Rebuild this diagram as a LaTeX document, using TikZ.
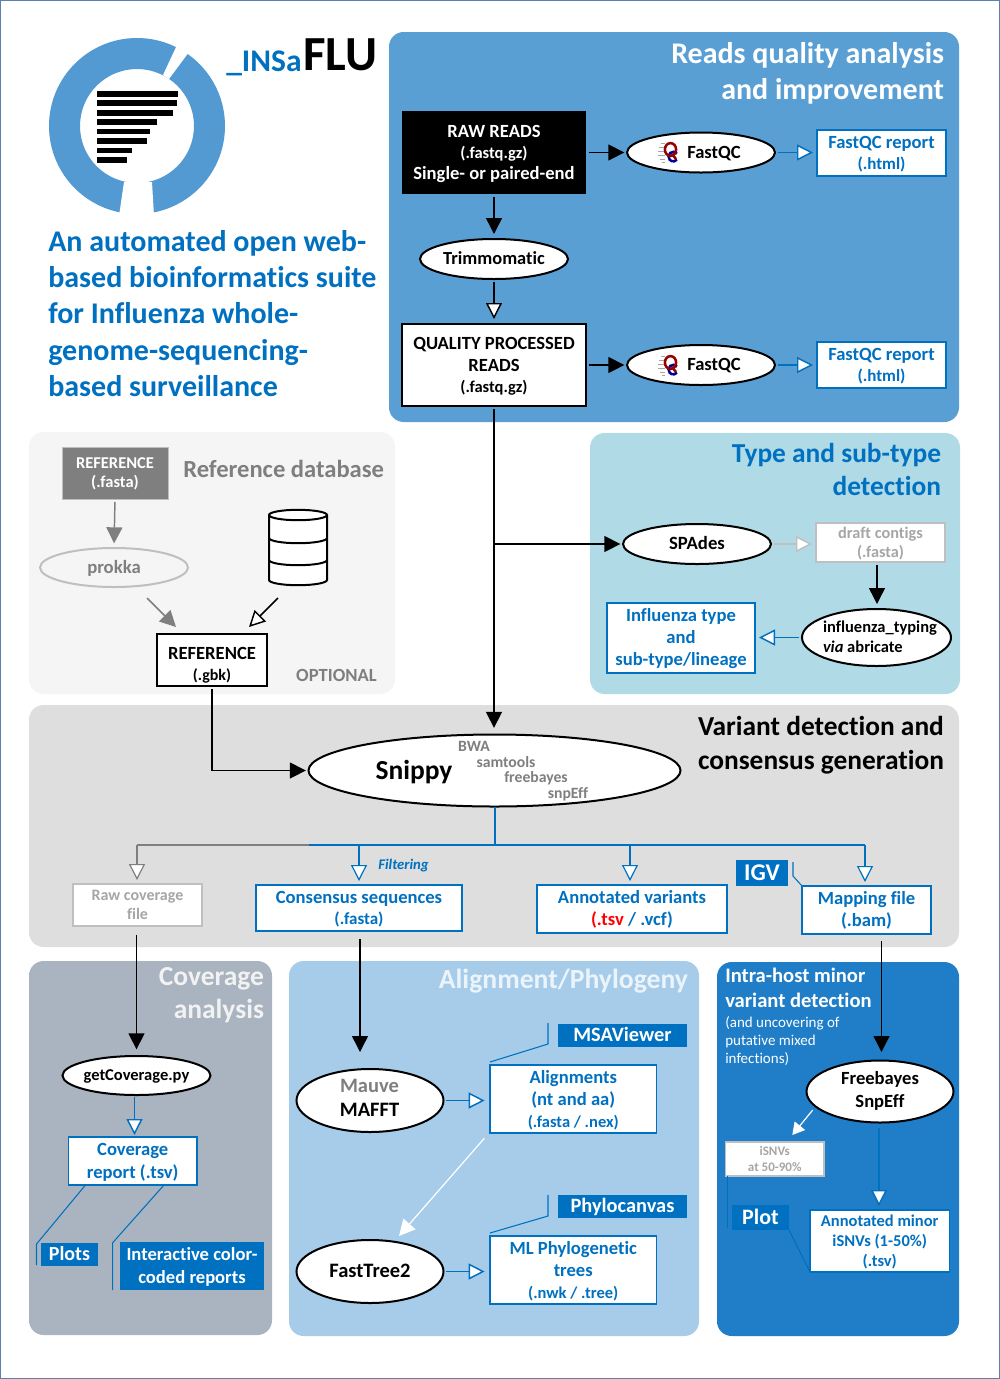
\documentclass[tikz,border=0pt]{standalone}
\usepackage{fontspec}
\setmainfont{Carlito}[Ligatures=NoCommon]
\usetikzlibrary{arrows.meta,shapes.geometric}
\definecolor{ibl}{HTML}{0070C0}
\definecolor{logob}{HTML}{5399D2}
\definecolor{preads}{HTML}{5A9FD4}
\definecolor{pdb}{HTML}{F5F5F5}
\definecolor{ptype}{HTML}{B0DAE6}
\definecolor{pvar}{HTML}{DEDEDE}
\definecolor{pcov}{HTML}{A9B4C0}
\definecolor{paln}{HTML}{A6CCE9}
\definecolor{pint}{HTML}{1F7EC7}
\definecolor{g1}{HTML}{7F7F7F}
\definecolor{g2}{HTML}{A6A6A6}
\definecolor{g3}{HTML}{BFBFBF}
\definecolor{frame}{HTML}{5B7FAE}
\newcommand\fsz[2]{\fontsize{\fpeval{#1*.75}}{\fpeval{#2*.75}}\selectfont}
\newcommand\capstrut{\rule[-.25em]{0pt}{1.12em}}
\newcommand\bx[7]{\node[boxbase,#2,minimum width={(#5-#3)*.75pt},minimum height={(#6-#4)*.75pt}] (#1) at ({(#3+#5)/2},{(#4+#6)/2}) {\capstrut#7\rule[-.25em]{0pt}{0pt}};}
\newcommand\el[7]{\node[elbase,#2,minimum width={2*#5*.75pt},minimum height={2*#6*.75pt},label={[align=center,inner sep=0pt,font=\bfseries]center:{#7\capstrut}}] (#1) at (#3,#4) {};}
\newcommand\qclogo[1]{\begin{scope}[shift={(0,#1)}]
\foreach \yy/\xs in {143/661,147/659,151/658,155/658,159/660,162/662}{\draw[g2,line width=.4pt] (\xs,\yy) -- (665,\yy);}
\draw[blue!60!black,line width=1.9pt] (677,153.5) arc[start angle=40,end angle=320,radius=3.6pt];
\draw[red!60!black,line width=1.9pt] (670.5,149.5) ellipse[x radius=4.2pt,y radius=4.8pt];
\draw[red!60!black,line width=1.9pt] (672,154) -- (676,159);
\end{scope}}
\tikzset{
 x=.75pt,y=-.75pt,
 boxbase/.style={rectangle,inner sep=0pt,outer sep=0pt,align=center,font=\bfseries\fsz{18.6}{22}},
 elbase/.style={ellipse,inner sep=0pt,outer sep=0pt,draw=black,fill=white,line width=1.5pt},
 panel/.style={rectangle,rounded corners=11pt,inner sep=0pt,outer sep=0pt},
 ptitle/.style={inner sep=0pt,outer sep=0pt,font=\bfseries\fsz{30}{36}},
 txt/.style={inner sep=0pt,outer sep=0pt,align=center},
 bluebox/.style={draw=ibl,fill=white,line width=1.4pt,text=ibl},
 greybox/.style={draw=g3,fill=white,line width=1.4pt,text=g2},
 blackbox/.style={draw=black,fill=white,line width=1.3pt,text=black},
 toolbox/.style={fill=ibl,text=white},
 thin link/.style={draw=ibl,line width=.8pt},
 hb/.style={line width=1.1pt,-{Triangle[length=12pt,width=12pt]},shorten <=2.2pt,shorten >=2pt},
 ho/.style={line width=1.1pt,-{Triangle[length=12pt,width=12pt,fill=white]},shorten <=2.2pt,shorten >=3pt},
 bluearrow/.style={ho,draw=ibl},
 greyarrow/.style={ho,draw=g3},
 tinytext/.style={inner sep=0pt,outer sep=0pt,text=g1,font=\bfseries\fsz{15.7}{18}},
}
\begin{document}
\begin{tikzpicture}
\useasboundingbox (0,0) rectangle (1000,1379);
\fill[white] (0,0) rectangle (1000,1379);
\draw[frame,line width=.9pt] (.6,.6) rectangle (999.4,1378.4);
% panels
\bx{preadsN}{panel,fill=preads}{389}{32}{959}{422}{}
\bx{pdbN}{panel,fill=pdb}{29}{432}{395}{694}{}
\bx{ptypeN}{panel,fill=ptype}{590}{433}{960}{694}{}
\bx{pvarN}{panel,fill=pvar}{29}{705}{959}{947}{}
\bx{pcovN}{panel,fill=pcov}{29}{961}{272}{1335}{}
\bx{palnN}{panel,fill=paln}{289}{961}{699}{1336}{}
\bx{pintN}{panel,fill=pint}{717}{962}{959}{1336}{}
% logo
\fill[logob,even odd rule] (137,126) circle[radius=88] circle[radius=57];
\fill[white] (124,182) -- (119,216) -- (154,216) -- (152,182) -- cycle;
\fill[white] (163,75) -- (177,45) -- (189,52) -- (169,79) -- cycle;
\foreach \yy/\xe in {93.7/178,103/177,112.7/173,122/157,131.5/150,141/146.5,150.3/132,159.7/127}{\fill[black] (97,\yy-2.8) rectangle (\xe,\yy+2.8);}
\node[inner sep=0pt,anchor=base west,text=ibl,font=\bfseries\fsz{31.5}{32}] (insa) at (226,71) {\_INSa};
\node[inner sep=0pt,anchor=base west,text=black,font=\bfseries\fsz{49}{50}] (flu) at (303,70) {FLU};
\node[inner sep=0pt,anchor=north west,align=left,text=ibl,font=\bfseries\fsz{30}{36.3}] (slogan) at (48,230) {An automated open web-\\based bioinformatics suite\\for Influenza whole-\\genome-sequencing-\\based surveillance};
% reads
\node[ptitle,text=white,anchor=east,align=right] (t1) at (944,73) {Reads quality analysis\\and improvement};
\bx{raw}{fill=black,text=white,font=\bfseries\fsz{18.6}{21}}{402}{111}{586}{194}{RAW READS\\\fsz{16.5}{21}(.fastq.gz)\\Single- or paired-end}
\el{fq1}{}{701}{152.5}{74}{20}{}
\node[txt,font=\bfseries\fsz{18.6}{21}] (fq1t) at (714,152.5) {\capstrut FastQC};
\qclogo{0}
\bx{rep1}{bluebox,font=\bfseries\fsz{18.6}{21}}{817}{130}{946}{176}{FastQC report\\\fsz{17}{21}(.html)}
\el{trim}{}{494}{259}{74}{20}{\fsz{18.4}{21}Trimmomatic}
\bx{qp}{blackbox,font=\bfseries\fsz{18.6}{21.5}}{402}{324}{586}{406}{QUALITY PROCESSED\\READS\\\fsz{16.5}{21}(.fastq.gz)}
\el{fq2}{}{701}{365}{74}{20}{}
\node[txt,font=\bfseries\fsz{18.6}{21}] (fq2t) at (714,365) {\capstrut FastQC};
\qclogo{213}
\bx{rep2}{bluebox,font=\bfseries\fsz{18.6}{21}}{817}{342}{946}{388}{FastQC report\\\fsz{17}{21}(.html)}
\draw[hb] (raw.east|-fq1) -- (fq1.west);
\draw[bluearrow] (fq1.east) -- (rep1.west|-fq1);
\draw[hb,shorten >=3.75pt] (raw.south) -- (trim.north);
\draw[ho,draw=black,shorten >=3.75pt] (trim.south) -- (qp.north);
\draw[hb] (qp.east|-fq2) -- (fq2.west);
\draw[bluearrow] (fq2.east) -- (rep2.west|-fq2);
% reference db
\bx{reffa}{fill=g1,draw=g3,line width=.7pt,text=white,font=\bfseries\fsz{16.5}{19}}{62}{447}{168}{499}{REFERENCE\\(.fasta)}
\node[inner sep=0pt,text=g1,font=\bfseries\fsz{24.6}{30},anchor=west] (t2) at (183,469) {Reference database};
\node[elbase,draw=g3,fill=pdb,minimum width=111pt,minimum height=29.25pt,label={[inner sep=0pt,text=g1,font=\bfseries\fsz{18.7}{21}]center:{\capstrut prokka}}] (prokka) at (114,567.5) {};
\bx{gbk}{blackbox,line width=1.1pt,font=\bfseries\fsz{18.6}{21}}{157}{634}{267}{686}{\rule{0pt}{1.3em}REFERENCE\\\fsz{16}{21}(.gbk)}
\node[inner sep=0pt,text=g1,font=\bfseries\fsz{18.6}{21}] (opt) at (336.5,675) {OPTIONAL};
\draw[hb,draw=g1,shorten >=3.5pt] (reffa.south) -- (prokka.north);
\coordinate (c1a) at (147,598); \coordinate (c1b) at (176,627);
\draw[hb,draw=g1,shorten <=0pt,shorten >=0pt] (c1a) -- (c1b);
\coordinate (c2a) at (278,598); \coordinate (c2b) at (249,627);
\draw[ho,draw=black,shorten <=0pt,shorten >=0pt] (c2a) -- (c2b);
\draw[fill=white,line width=1.5pt] (269,515) -- (269,580) arc[start angle=180,end angle=360,x radius=21.75pt,y radius=3.9pt] -- (327,515) arc[start angle=0,end angle=180,x radius=21.75pt,y radius=3.9pt] -- cycle;
\draw[line width=1.5pt] (269,515) arc[start angle=180,end angle=360,x radius=21.75pt,y radius=3.9pt];
\draw[line width=1.5pt] (269,538) arc[start angle=180,end angle=360,x radius=21.75pt,y radius=3.9pt];
\draw[line width=1.5pt] (269,560) arc[start angle=180,end angle=360,x radius=21.75pt,y radius=3.9pt];
% type
\node[ptitle,text=ibl,anchor=east,align=right,font=\bfseries\fsz{27.4}{33}] (t3) at (941,469) {Type and sub-type\\detection};
\el{spades}{}{697}{544}{74}{20}{\fsz{18.7}{21}SPAdes}
\bx{draft}{greybox,font=\bfseries\fsz{16.3}{19}}{816}{523}{945}{562}{draft contigs\\(.fasta)}
\el{inftyp}{}{876.5}{637.5}{74.5}{28.5}{}
\node[txt,align=left,anchor=west,font=\bfseries\fsz{16.5}{20}] (inftypt) at (823,637) {\capstrut influenza\_typing\\\textit{via} abricate\rule[-.25em]{0pt}{0pt}};
\bx{inftype}{bluebox}{607}{603}{755}{673}{Influenza type\\and\\sub-type/lineage}
\draw[greyarrow] (spades.east) -- (draft.west|-spades);
\coordinate (c3) at (877,604);
\draw[hb,shorten >=3.75pt] (draft.south-|c3) -- (inftyp.north-|c3);
\draw[bluearrow] (inftyp.west) -- (inftype.east|-inftyp);
% variant
\node[ptitle,text=black,anchor=west,align=left,font=\bfseries\fsz{27.4}{34}] (t4) at (698,745.5) {Variant detection and\\consensus generation};
\el{snippy}{}{494.5}{770.5}{186}{36}{}
\node[txt,font=\bfseries\fsz{27.5}{30}] (snt) at (414,770.5) {\capstrut Snippy};
\node[tinytext] (bwa) at (474,746) {BWA};
\node[tinytext] (sam) at (506,762) {samtools};
\node[tinytext] (fb) at (536,778) {freebayes};
\node[tinytext] (se) at (568,794) {snpEff};
\bx{rawcov}{greybox,font=\bfseries\fsz{16}{19}}{73}{884}{202}{926}{Raw coverage\\file}
\bx{cons}{bluebox,font=\bfseries\fsz{18.6}{21}}{256}{885}{462}{931}{Consensus sequences\\\fsz{17}{21}(.fasta)}
\bx{annot}{bluebox}{537}{885}{727}{933}{Annotated variants\\\textcolor{red}{(.tsv} / .vcf)}
\bx{igv}{toolbox,font=\bfseries\fsz{24}{26}}{736}{862}{788}{884}{IGV}
\bx{mapf}{bluebox}{802}{886}{931}{934}{Mapping file\\(.bam)}
\node[inner sep=0pt,text=ibl,font=\bfseries\itshape\fsz{14.7}{17}] (filt) at (403.5,866) {Filtering};
\coordinate (jc) at (495,845); \coordinate (jg) at (137,845); \coordinate (jb) at (309,845); \coordinate (je) at (865,845);
\coordinate (j1) at (359,845); \coordinate (j2) at (630,845);
\draw[draw=ibl,line width=1pt] (snippy.south-|jc) -- (jc);
\draw[g1,line width=1pt] (jb) -- (jg);
\draw[ibl,line width=1pt] (jb) -- (je);
\draw[ho,draw=g1,shorten <=0pt,line width=.9pt] (jg) -- (rawcov.north-|jg);
\draw[bluearrow,shorten <=0pt,line width=.9pt] (j1) -- (cons.north-|j1);
\draw[bluearrow,shorten <=0pt,line width=.9pt] (j2) -- (annot.north-|j2);
\draw[bluearrow,shorten <=0pt,line width=.9pt] (je) -- (mapf.north-|je);
\coordinate (i1) at (793,862); \coordinate (i2) at (793,876);
\draw[thin link] (i1) -- (i2) -- (mapf.north west);
% into snippy
\draw[hb,shorten >=5pt] (qp.south) -- (snippy.north-|qp);
\draw[hb,shorten <=0pt] (qp.south|-spades.west) -- (spades.west);
\coordinate (sn1) at (212,770.5);
\draw[line width=1.1pt,shorten <=2.2pt] (gbk.south) -- (sn1);
\draw[hb,shorten <=0pt] (sn1) -- (snippy.west);
% coverage
\node[ptitle,text=white!95!black,anchor=east,align=right,font=\bfseries\fsz{27.5}{33}] (t5) at (264,995.5) {Coverage\\analysis};
\el{getc}{}{136.5}{1075.5}{74}{19.5}{\fsz{16.5}{20}getCoverage.py}
\bx{covrep}{bluebox,line width=1pt,font=\bfseries\fsz{18.6}{23}}{68.5}{1137}{197}{1185}{Coverage\\report (.tsv)}
\bx{plots}{toolbox,font=\bfseries\fsz{20}{22}}{41}{1244}{98}{1265}{Plots}
\bx{inter}{toolbox,font=\bfseries\fsz{18.6}{23}}{120}{1242}{264}{1290}{Interactive color-\\coded reports}
\coordinate (c4) at (136.5,935);
\draw[hb,shorten <=0pt,shorten >=5pt] (c4) -- (getc.north);
\coordinate (c5) at (134.5,1097);
\draw[bluearrow,shorten <=0pt,shorten >=1.5pt] (c5) -- (covrep.north-|c5);
\coordinate (l1a) at (85.5,1185); \coordinate (l1b) at (36.5,1244); \coordinate (l1c) at (36.5,1265);
\draw[thin link] (l1a) -- (l1b) -- (l1c);
\coordinate (l2a) at (164,1185); \coordinate (l2b) at (112.7,1242.7); \coordinate (l2c) at (112.7,1290);
\draw[thin link] (l2a) -- (l2b) -- (l2c);
% alignment
\node[ptitle,text=white!92!ibl,anchor=east,font=\bfseries\fsz{27.7}{33}] (t6) at (688,981) {Alignment/Phylogeny};
\el{mafft}{}{370}{1100.5}{73.5}{31.5}{}
\node[txt,font=\bfseries\fsz{20.5}{24}] (mafftt) at (369.5,1098) {\capstrut{\color{g1}Mauve}\\MAFFT\rule[-.25em]{0pt}{0pt}};
\bx{aln}{bluebox}{490}{1065}{656.5}{1133}{Alignments\\(nt and aa)\\\fsz{16.5}{22}(.fasta / .nex)}
\bx{msa}{toolbox,font=\bfseries\fsz{20.4}{22}}{558}{1024}{687}{1047}{MSAViewer}
\coordinate (l3a) at (548,1023); \coordinate (l3b) at (548,1044); \coordinate (l3c) at (490,1062);
\draw[thin link] (l3a) -- (l3b) -- (l3c);
\el{ftree}{}{370}{1271.5}{73.5}{31.5}{\fsz{20.5}{24}FastTree2}
\bx{ml}{bluebox}{490}{1236}{656.5}{1304}{ML Phylogenetic\\trees\\\fsz{16.5}{22}(.nwk / .tree)}
\bx{phc}{toolbox,font=\bfseries\fsz{20.4}{22}}{558}{1195}{687}{1218}{Phylocanvas}
\coordinate (l4a) at (548,1195); \coordinate (l4b) at (548,1216); \coordinate (l4c) at (490,1233);
\draw[thin link] (l4a) -- (l4b) -- (l4c);
\coordinate (c6) at (360,939); \coordinate (c7) at (360,1052);
\draw[hb,shorten <=0pt,shorten >=0pt] (c6) -- (c7);
\draw[bluearrow,shorten >=4pt] (mafft.east) -- (aln.west|-mafft);
\draw[bluearrow,shorten >=4pt] (ftree.east) -- (ml.west|-ftree);
\coordinate (c8) at (484.3,1138.3); \coordinate (c9) at (399,1236);
\draw[hb,draw=white,fill=white,line width=.9pt,shorten <=0pt,shorten >=0pt] (c8) -- (c9);
% intra
\node[inner sep=0pt,anchor=north west,align=left,text=white,font=\bfseries\fsz{20.6}{25}] (t7) at (725,968) {Intra-host minor\\variant detection};
\node[inner sep=0pt,anchor=north west,align=left,text=white,font=\fsz{15}{18}] (t8) at (725,1016.5) {(and uncovering of\\putative mixed\\infections)};
\el{fbs}{}{880}{1091.5}{73.5}{31}{}
\node[txt,font=\bfseries\fsz{18.6}{23}] (fbst) at (880,1090.5) {\capstrut Freebayes\\SnpEff\rule[-.25em]{0pt}{0pt}};
\bx{isnv}{greybox,font=\bfseries\fsz{13}{16},line width=1pt}{725.5}{1142}{824}{1176}{iSNVs\\at 50-90\%}
\bx{amin}{bluebox,font=\bfseries\fsz{16.5}{20},line width=.9pt}{810}{1210}{949.5}{1272}{Annotated minor\\iSNVs (1-50\%)\\(.tsv)}
\bx{plotb}{toolbox,font=\bfseries\fsz{22}{24}}{732}{1207}{789}{1228}{Plot}
\coordinate (c10) at (881.5,941); \coordinate (c11) at (881.5,1052);
\draw[hb,shorten <=0pt,shorten >=0pt] (c10) -- (c11);
\coordinate (c12) at (812.7,1110); \coordinate (c13) at (792.3,1135);
\draw[line width=.9pt,draw=white,fill=white,-{Triangle[length=9pt,width=10pt]}] (c12) -- (c13);
\coordinate (c14) at (879,1128);
\draw[bluearrow,shorten <=0pt,shorten >=3pt] (c14) -- (amin.north-|c14);
\coordinate (l5a) at (727.7,1176); \coordinate (l5b) at (727.7,1228);
\draw[thin link] (l5a) -- (l5b);
\draw[thin link] (plotb.south east) -- (amin.south west);
\end{tikzpicture}
\end{document}
